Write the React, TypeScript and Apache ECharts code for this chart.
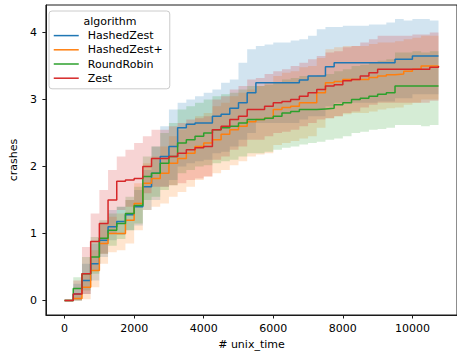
import React, { useEffect, useRef } from "react";
import * as echarts from "echarts";

const TIME = [
  0, 250, 500, 750, 1000, 1250, 1500, 1750, 2000, 2250, 2500, 2750, 3000, 3250, 3500, 3750,
  4000, 4250, 4500, 4750, 5000, 5250, 5500, 5750, 6000, 6250, 6500, 6750, 7000, 7250, 7500,
  7750, 8000, 8250, 8500, 8750, 9000, 9250, 9500, 9750, 10000, 10250, 10500, 10750,
];

const ALGORITHMS = ["HashedZest", "HashedZest+", "RoundRobin", "Zest"];
const COLORS = ["#1f77b4", "#ff7f0e", "#2ca02c", "#d62728"];

const HASHED_ZEST = [0, 0.1, 0.3, 0.55, 0.9, 1.1, 1.18, 1.28, 1.4, 1.7, 1.9, 2.15, 2.3, 2.58, 2.63, 2.65, 2.65, 2.75, 2.78, 2.87, 2.95, 3.1, 3.25, 3.25, 3.25, 3.25, 3.25, 3.29, 3.35, 3.35, 3.49, 3.55, 3.55, 3.55, 3.55, 3.55, 3.55, 3.55, 3.6, 3.6, 3.65, 3.65, 3.65, 3.65];
const HASHED_ZEST_LO = [0, 0, 0.1, 0.3, 0.65, 0.9, 0.98, 1.05, 1.12, 1.35, 1.5, 1.7, 1.8, 2.0, 2.05, 2.08, 2.1, 2.2, 2.22, 2.3, 2.4, 2.5, 2.65, 2.65, 2.65, 2.65, 2.65, 2.7, 2.75, 2.75, 2.9, 2.95, 2.95, 2.95, 2.95, 2.95, 2.97, 2.97, 3.02, 3.02, 3.08, 3.08, 3.08, 3.1];
const HASHED_ZEST_HI = [0, 0.25, 0.55, 0.85, 1.15, 1.35, 1.4, 1.5, 1.65, 1.95, 2.3, 2.6, 2.85, 2.95, 3.0, 3.05, 3.1, 3.15, 3.25, 3.3, 3.55, 3.75, 3.8, 3.82, 3.85, 3.85, 3.88, 3.9, 3.95, 4.05, 4.08, 4.08, 4.1, 4.1, 4.1, 4.12, 4.12, 4.15, 4.2, 4.18, 4.2, 4.2, 4.18, 4.2];

const HASHED_ZEST_PLUS = [0, 0.03, 0.2, 0.45, 0.85, 1.0, 1.0, 1.2, 1.45, 1.75, 1.82, 1.9, 2.05, 2.12, 2.2, 2.3, 2.35, 2.4, 2.48, 2.55, 2.6, 2.67, 2.7, 2.72, 2.85, 2.88, 2.9, 2.95, 2.95, 3.1, 3.25, 3.27, 3.3, 3.3, 3.3, 3.33, 3.35, 3.37, 3.38, 3.42, 3.45, 3.5, 3.5, 3.5];
const HASHED_ZEST_PLUS_LO = [0, 0, 0.02, 0.2, 0.55, 0.72, 0.75, 0.85, 1.05, 1.35, 1.4, 1.45, 1.55, 1.62, 1.7, 1.8, 1.85, 1.9, 1.95, 2.02, 2.08, 2.15, 2.18, 2.2, 2.32, 2.35, 2.38, 2.42, 2.45, 2.58, 2.72, 2.75, 2.78, 2.8, 2.8, 2.82, 2.85, 2.87, 2.88, 2.92, 2.95, 3.0, 3.0, 3.02];
const HASHED_ZEST_PLUS_HI = [0, 0.1, 0.4, 0.75, 1.15, 1.25, 1.3, 1.5, 1.75, 2.05, 2.15, 2.3, 2.45, 2.55, 2.65, 2.75, 2.8, 2.9, 2.95, 3.05, 3.1, 3.15, 3.2, 3.25, 3.35, 3.4, 3.42, 3.48, 3.5, 3.62, 3.75, 3.78, 3.8, 3.8, 3.8, 3.83, 3.85, 3.85, 3.87, 3.9, 3.92, 3.95, 3.95, 3.95];

const ROUND_ROBIN = [0, 0.18, 0.4, 0.65, 0.93, 1.05, 1.15, 1.3, 1.42, 1.85, 1.9, 2.05, 2.15, 2.35, 2.4, 2.45, 2.5, 2.55, 2.58, 2.6, 2.65, 2.7, 2.7, 2.72, 2.75, 2.8, 2.82, 2.85, 2.85, 2.86, 2.87, 2.92, 2.95, 3.0, 3.02, 3.05, 3.08, 3.1, 3.2, 3.2, 3.2, 3.2, 3.2, 3.2];
const ROUND_ROBIN_LO = [0, 0, 0.15, 0.4, 0.7, 0.82, 0.92, 1.05, 1.15, 1.5, 1.55, 1.65, 1.72, 1.9, 1.95, 2.0, 2.02, 2.05, 2.08, 2.1, 2.15, 2.2, 2.2, 2.22, 2.25, 2.28, 2.3, 2.33, 2.35, 2.37, 2.4, 2.42, 2.45, 2.5, 2.52, 2.55, 2.56, 2.58, 2.62, 2.62, 2.62, 2.6, 2.62, 2.62];
const ROUND_ROBIN_HI = [0, 0.35, 0.65, 0.95, 1.2, 1.3, 1.4, 1.55, 1.7, 2.15, 2.3, 2.5, 2.65, 2.85, 2.9, 2.95, 3.0, 3.05, 3.08, 3.1, 3.15, 3.2, 3.2, 3.22, 3.25, 3.3, 3.32, 3.35, 3.35, 3.36, 3.38, 3.42, 3.45, 3.5, 3.52, 3.55, 3.58, 3.6, 3.7, 3.7, 3.72, 3.7, 3.72, 3.72];

const ZEST = [0, 0.1, 0.4, 0.88, 1.15, 1.5, 1.78, 1.8, 1.82, 2.0, 2.12, 2.12, 2.15, 2.2, 2.25, 2.28, 2.3, 2.55, 2.6, 2.7, 2.75, 2.85, 2.85, 2.9, 2.95, 2.97, 3.0, 3.05, 3.1, 3.15, 3.2, 3.22, 3.28, 3.3, 3.35, 3.4, 3.45, 3.45, 3.45, 3.45, 3.45, 3.45, 3.48, 3.5];
const ZEST_LO = [0, 0, 0.1, 0.45, 0.7, 1.0, 1.35, 1.4, 1.42, 1.6, 1.7, 1.7, 1.72, 1.75, 1.8, 1.82, 1.85, 2.1, 2.15, 2.25, 2.3, 2.4, 2.4, 2.45, 2.5, 2.52, 2.55, 2.6, 2.65, 2.7, 2.72, 2.75, 2.8, 2.82, 2.88, 2.92, 2.95, 2.95, 2.95, 2.95, 2.95, 2.95, 2.98, 3.0];
const ZEST_HI = [0, 0.3, 0.8, 1.3, 1.65, 1.95, 2.15, 2.25, 2.35, 2.45, 2.55, 2.55, 2.6, 2.65, 2.7, 2.72, 2.75, 3.0, 3.05, 3.15, 3.2, 3.3, 3.32, 3.38, 3.42, 3.45, 3.5, 3.55, 3.6, 3.65, 3.7, 3.72, 3.78, 3.8, 3.85, 3.9, 3.95, 3.95, 3.95, 3.95, 3.97, 3.97, 4.0, 4.02];

const X_TICKS = [0, 2000, 4000, 6000, 8000, 10000];
const Y_TICKS = [0, 1, 2, 3, 4];

const MEANS = [HASHED_ZEST, HASHED_ZEST_PLUS, ROUND_ROBIN, ZEST];
const LOWS = [HASHED_ZEST_LO, HASHED_ZEST_PLUS_LO, ROUND_ROBIN_LO, ZEST_LO];
const HIGHS = [HASHED_ZEST_HI, HASHED_ZEST_PLUS_HI, ROUND_ROBIN_HI, ZEST_HI];

const FONT = "DejaVu Sans";
const INK = "#1a1a1a";

function hexToRgba(hex: string, a: number) {
  const n = parseInt(hex.slice(1), 16);
  return `rgba(${(n >> 16) & 255},${(n >> 8) & 255},${n & 255},${a})`;
}

export default function App() {
  const ref = useRef<HTMLDivElement>(null);
  useEffect(() => {
    if (!ref.current) return;
    const chart = echarts.init(ref.current, null, { renderer: "svg" });
    const series: any[] = [];
    ALGORITHMS.forEach((name, i) => {
      series.push({
        name,
        type: "line",
        step: "end",
        symbol: "none",
        data: TIME.map((t, k) => [t, MEANS[i][k]]),
        lineStyle: { color: COLORS[i], width: 1.5 },
        itemStyle: { color: COLORS[i] },
        z: 3,
      });
      const lo = LOWS[i];
      const hi = HIGHS[i];
      series.push({
        name: name + " ci",
        type: "custom",
        z: 2,
        encode: { x: 0, y: [1, 2] },
        data: TIME.map((t, k) => [t, lo[k], hi[k]]),
        renderItem: (params: any, api: any) => {
          if (params.dataIndex !== 0) return null;
          const pts: number[][] = [];
          const n = TIME.length;
          for (let k = 0; k < n; k++) {
            pts.push(api.coord([TIME[k], hi[k]]));
            if (k < n - 1) pts.push(api.coord([TIME[k + 1], hi[k]]));
          }
          for (let k = n - 1; k >= 0; k--) {
            if (k < n - 1) pts.push(api.coord([TIME[k + 1], lo[k]]));
            pts.push(api.coord([TIME[k], lo[k]]));
          }
          return {
            type: "polygon",
            shape: { points: pts },
            style: { fill: hexToRgba(COLORS[i], 0.2), stroke: "none" },
          };
        },
      });
    });

    chart.setOption({
      animation: false,
      backgroundColor: "#fff",
      textStyle: { fontFamily: FONT },
      grid: {
        left: 43,
        top: 5,
        width: 416,
        height: 310,
        show: true,
        borderColor: INK,
        borderWidth: 1,
        backgroundColor: "transparent",
      },
      legend: {
        data: ALGORITHMS,
        orient: "vertical",
        left: 49,
        top: 11,
        padding: [19, 7, 5, 4],
        itemWidth: 25,
        itemHeight: 14,
        itemGap: 3,
        itemStyle: { opacity: 0 },
        lineStyle: { width: 1.5 },
        backgroundColor: "rgba(255,255,255,0.8)",
        borderColor: "#cccccc",
        borderWidth: 1,
        borderRadius: 3,
        textStyle: { fontSize: 11, color: "#000", fontFamily: FONT, padding: [0, 0, 0, 4] },
      },
      graphic: [
        {
          type: "text",
          x: 110,
          y: 21,
          z: 100,
          style: {
            text: "algorithm",
            align: "center",
            verticalAlign: "middle",
            fontSize: 11,
            fill: "#000",
            fontFamily: FONT,
          },
        },
      ],
      xAxis: {
        type: "value",
        min: -537,
        max: 11282,
        name: "# unix_time",
        nameLocation: "middle",
        nameGap: 22,
        nameTextStyle: { fontSize: 11, color: "#000", fontFamily: FONT },
        axisLine: { onZero: false, lineStyle: { color: INK, width: 1 } },
        axisTick: { length: 3.5, lineStyle: { color: INK }, customValues: X_TICKS },
        axisLabel: {
          customValues: X_TICKS,
          fontSize: 11,
          color: "#000",
          margin: 8,
          fontFamily: FONT,
          formatter: (v: number) => String(v),
        },
        splitLine: { show: false },
      },
      yAxis: {
        type: "value",
        min: -0.215,
        max: 4.41,
        name: "crashes",
        nameLocation: "middle",
        nameGap: 19,
        nameRotate: 90,
        nameTextStyle: { fontSize: 11, color: "#000", fontFamily: FONT },
        axisLine: { onZero: false, lineStyle: { color: INK, width: 1 } },
        axisTick: { length: 3.5, lineStyle: { color: INK }, customValues: Y_TICKS },
        axisLabel: {
          customValues: Y_TICKS,
          fontSize: 11,
          color: "#000",
          margin: 9,
          fontFamily: FONT,
          formatter: (v: number) => String(v),
        },
        splitLine: { show: false },
      },
      series,
    });
    return () => chart.dispose();
  }, []);
  return (
    <div
      ref={ref}
      style={{ position: "fixed", left: 0, top: 0, width: 457, height: 356 }}
    />
  );
}
